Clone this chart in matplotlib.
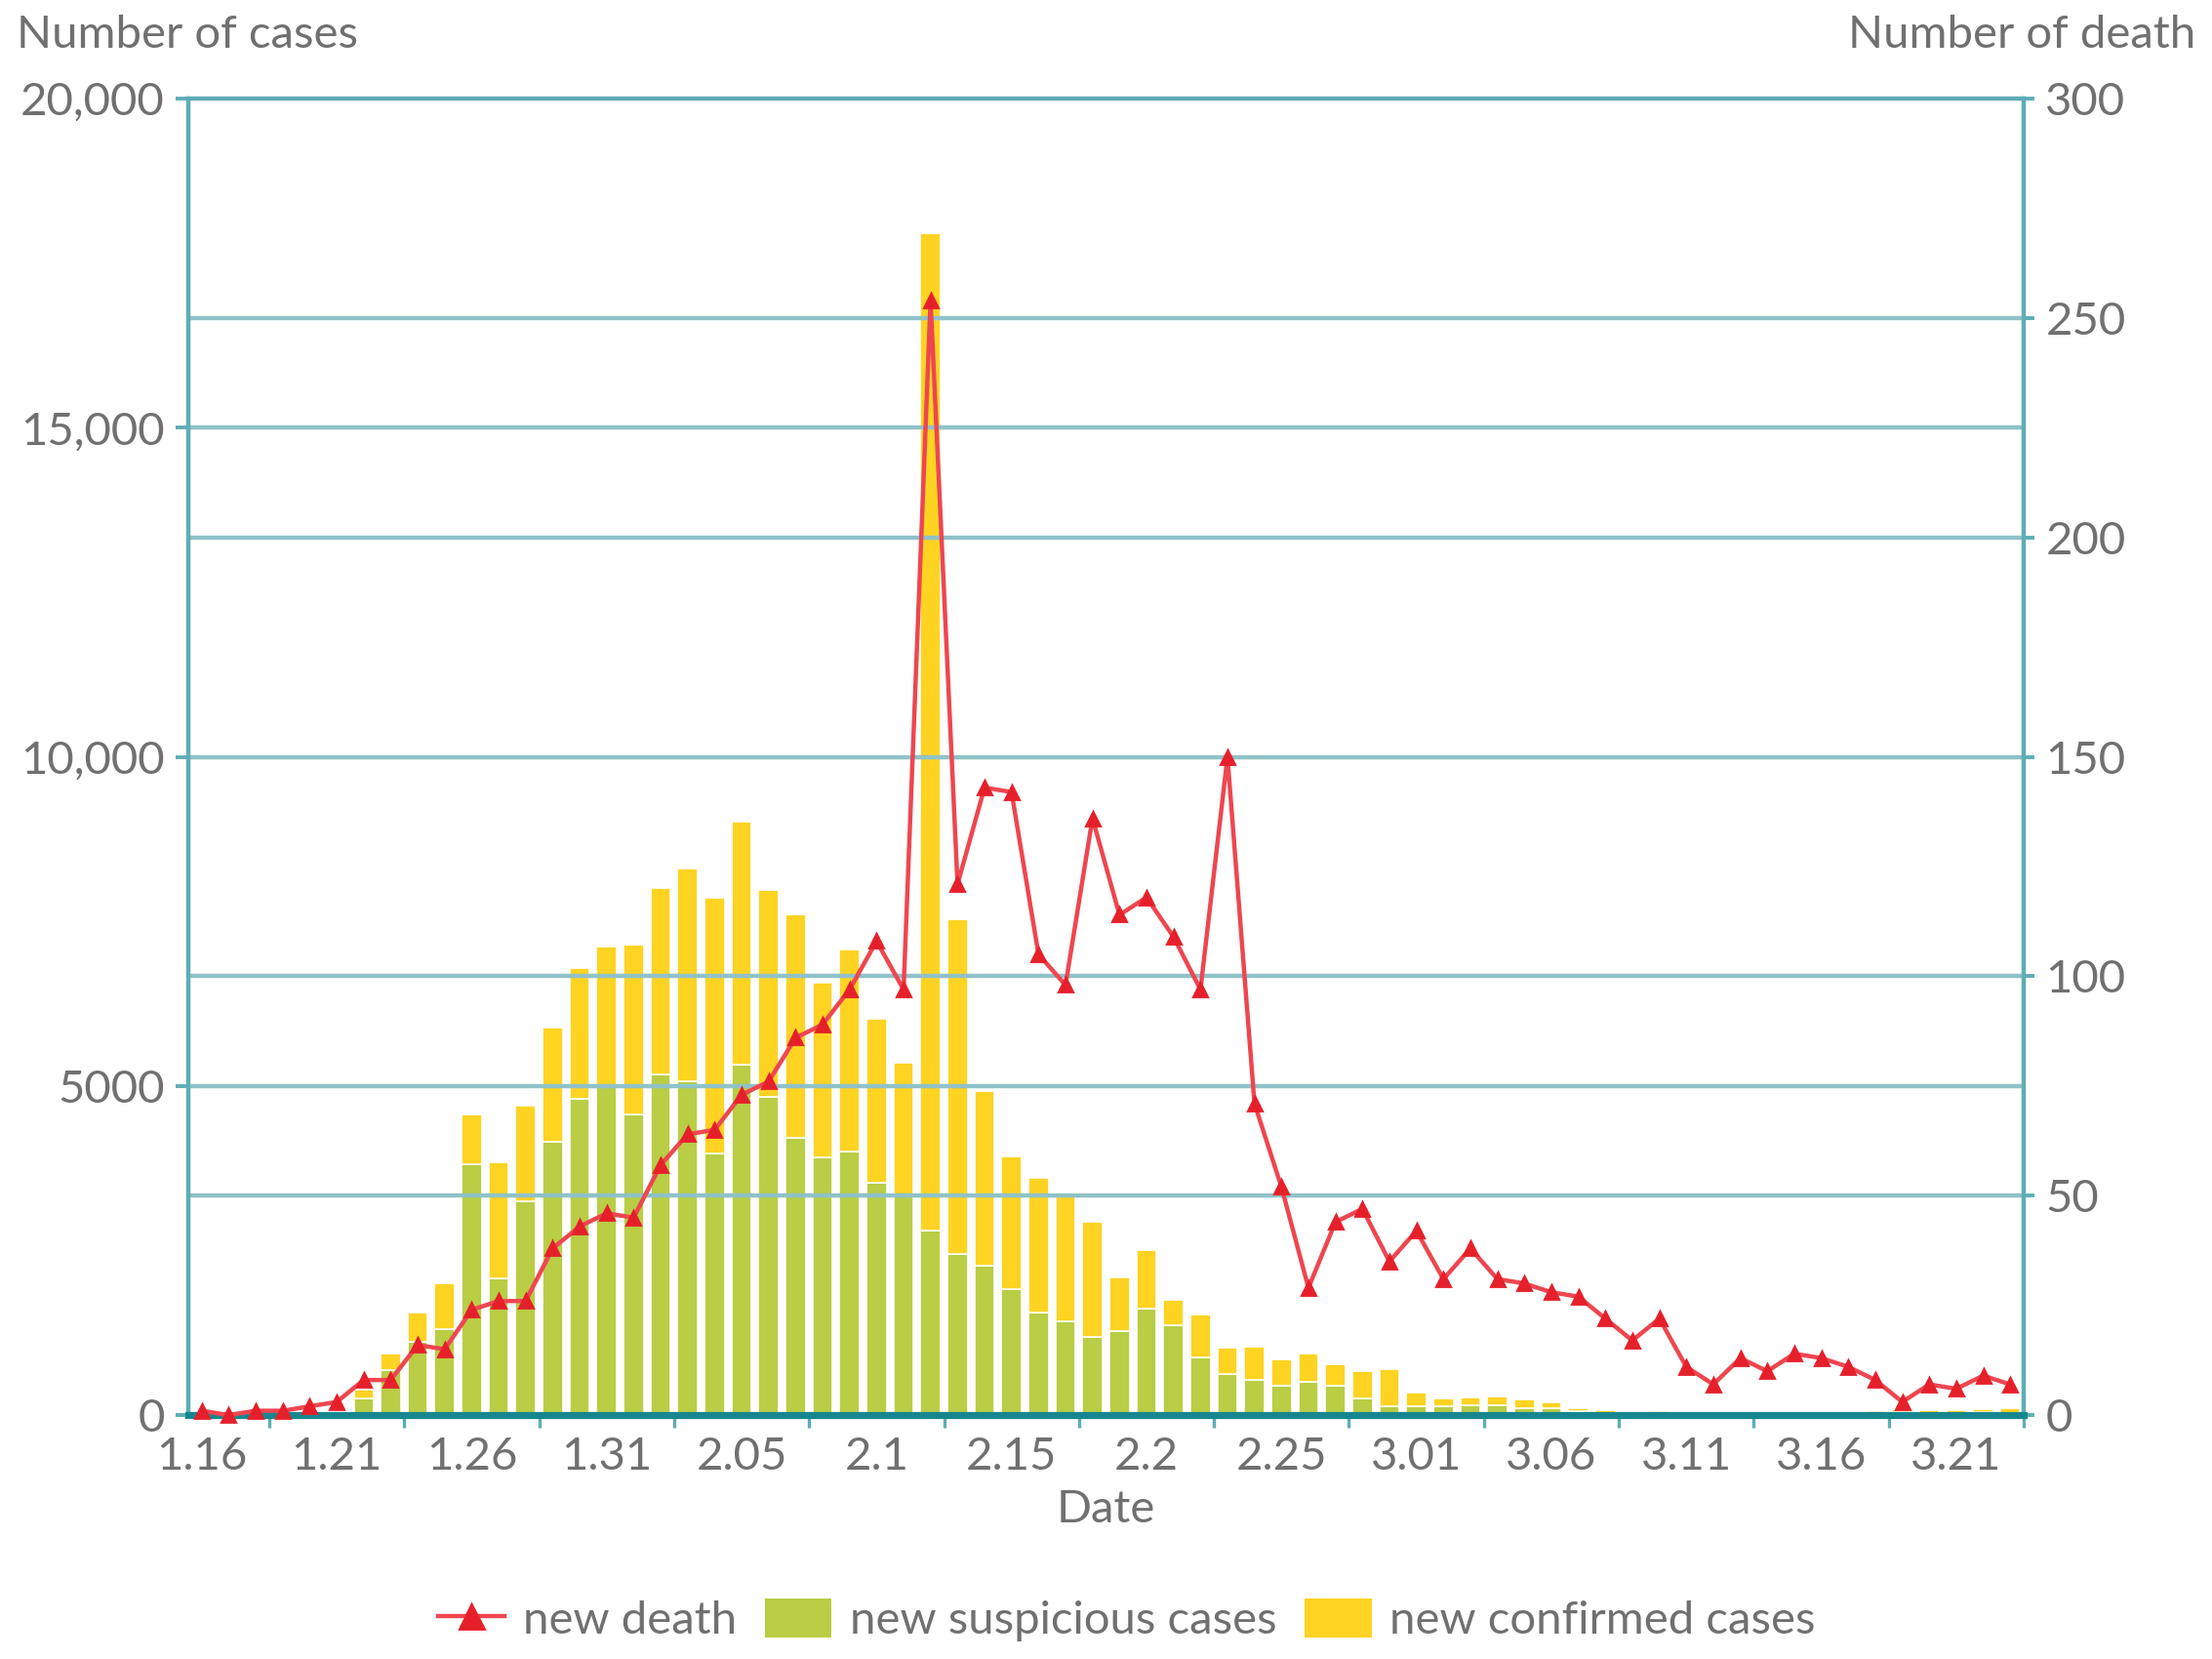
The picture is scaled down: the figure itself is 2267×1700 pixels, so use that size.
import numpy as np
import matplotlib
matplotlib.use("Agg")
import matplotlib.pyplot as plt
from matplotlib.lines import Line2D
from matplotlib.patches import Patch

plt.rcParams['font.family'] = ['Lato', 'DejaVu Sans']

# daily values, 1.16 - 3.23
suspected = [0, 0, 0, 0, 0, 0,
             257, 680, 1118, 1309, 3806, 2077, 3248, 4148, 4812, 5019,
             4562, 5173, 5072, 3971, 5328, 4833, 4214, 3916, 4008, 3536,
             3342, 2807, 2450, 2277, 1918, 1563, 1432, 1185, 1277, 1614,
             1361, 882, 620, 530, 439, 508, 452, 248, 132, 141,
             129, 143, 143, 102, 99, 60, 36, 31, 33, 33,
             33, 17, 39, 41, 45, 45, 23, 45, 36, 31, 47, 20]
confirmed = [0, 0, 0, 0, 0, 0,
             131, 259, 444, 688, 769, 1771, 1459, 1737, 1982, 2102,
             2590, 2829, 3235, 3887, 3694, 3143, 3399, 2656, 3062, 2478,
             2015, 15152, 5090, 2641, 2009, 2048, 1886, 1749, 820, 889,
             397, 648, 409, 508, 406, 433, 327, 427, 573, 202,
             125, 119, 139, 143, 99, 44, 40, 19, 24, 15,
             8, 11, 20, 16, 21, 13, 34, 39, 41, 46, 39, 78]
deaths = [1, 0, 1, 1, 2, 3,
          8, 8, 16, 15, 24, 26, 26, 38, 43, 46,
          45, 57, 64, 65, 73, 76, 86, 89, 97, 108,
          97, 254, 121, 143, 142, 105, 98, 136, 114, 118,
          109, 97, 150, 71, 52, 29, 44, 47, 35, 42,
          31, 38, 31, 30, 28, 27, 22, 17, 22, 11,
          7, 13, 10, 14, 13, 11, 8, 3, 7, 6, 9, 7]

date_labels = ['1.16', '1.21', '1.26', '1.31', '2.05', '2.1', '2.15',
               '2.2', '2.25', '3.01', '3.06', '3.11', '3.16', '3.21']
left_ticks = [0, 5000, 10000, 15000, 20000]
left_labels = ['0', '5000', '10,000', '15,000', '20,000']
right_ticks = [0, 50, 100, 150, 200, 250, 300]

green = '#b9cd45'
yellow = '#ffd322'
red = '#e5202b'
grid_c = '#8fc2c8'
axis_c = '#5eadb5'
text_c = '#707070'
fs = 17

x = np.arange(len(deaths))

fig = plt.figure(figsize=(11.335, 8.5), dpi=200)
ax = fig.add_axes([0.0851, 0.147, 0.8298, 0.7935])
ax2 = ax.twinx()

ax.bar(x, suspected, width=0.74, color=green, edgecolor='white', linewidth=0.6, zorder=1)
ax.bar(x, confirmed, bottom=suspected, width=0.74, color=yellow, edgecolor='white',
       linewidth=0.6, zorder=1)

for v in left_ticks[1:-1]:
    ax.axhline(v, color=grid_c, lw=1.6, zorder=3)
for v in [50, 100, 200, 250]:
    ax2.axhline(v, color=grid_c, lw=1.6, zorder=1)

ax2.plot(x, deaths, color='#ee4650', lw=1.6, marker='^', markersize=5,
         markerfacecolor=red, markeredgecolor=red, zorder=4, clip_on=False)

ax.set_xlim(-0.5, len(deaths) - 0.5)
ax.set_ylim(0, 20000)
ax2.set_ylim(0, 300)

for s in ax.spines.values():
    s.set_visible(False)
for side in ['left', 'right', 'top']:
    ax2.spines[side].set_color(axis_c)
    ax2.spines[side].set_linewidth(1.6)
ax2.spines['bottom'].set_color('#17878f')
ax2.spines['bottom'].set_linewidth(2.6)
ax2.spines['bottom'].set_zorder(3)

ax.set_xticks(np.arange(0, len(deaths), 5))
ax.set_xticklabels(date_labels)
ax.set_xticks(np.arange(2.5, len(deaths), 5), minor=True)
ax.tick_params(axis='x', which='major', length=0, pad=8, labelsize=fs, labelcolor=text_c)
ax.tick_params(axis='x', which='minor', length=4.5, width=1.2, color=axis_c, direction='out')

ax.set_yticks(left_ticks)
ax.set_yticklabels(left_labels)
ax.tick_params(axis='y', length=4.7, width=1.4, color=axis_c, pad=4,
               labelsize=fs, labelcolor=text_c)
ax2.set_yticks(right_ticks)
ax2.tick_params(axis='y', length=4.0, width=1.4, color=axis_c, pad=4,
                labelsize=fs, labelcolor=text_c)

fig.text(17 / 2267, 1 - 36 / 1700, 'Number of cases', ha='left', va='center',
         fontsize=fs, color=text_c)
fig.text(2250 / 2267, 1 - 36 / 1700, 'Number of death', ha='right', va='center',
         fontsize=fs, color=text_c)
fig.text(1133 / 2267, 1 - 1547 / 1700, 'Date', ha='center', va='center',
         fontsize=fs, color=text_c)

handles = [Line2D([0], [0], color='#ee4650', lw=1.6, marker='^', markersize=9,
                  markerfacecolor=red, markeredgecolor=red),
           Patch(facecolor=green, edgecolor='none'),
           Patch(facecolor=yellow, edgecolor='none')]
fig.legend(handles, ['new death', 'new suspicious cases', 'new confirmed cases'],
           loc='center', bbox_to_anchor=(1155 / 2267, 1 - 1660 / 1700), ncol=3,
           frameon=False, fontsize=fs, labelcolor=text_c, handlelength=1.45,
           handleheight=0.95, handletextpad=0.4, columnspacing=0.6)

fig.savefig('out.png', dpi=200, facecolor='white')
